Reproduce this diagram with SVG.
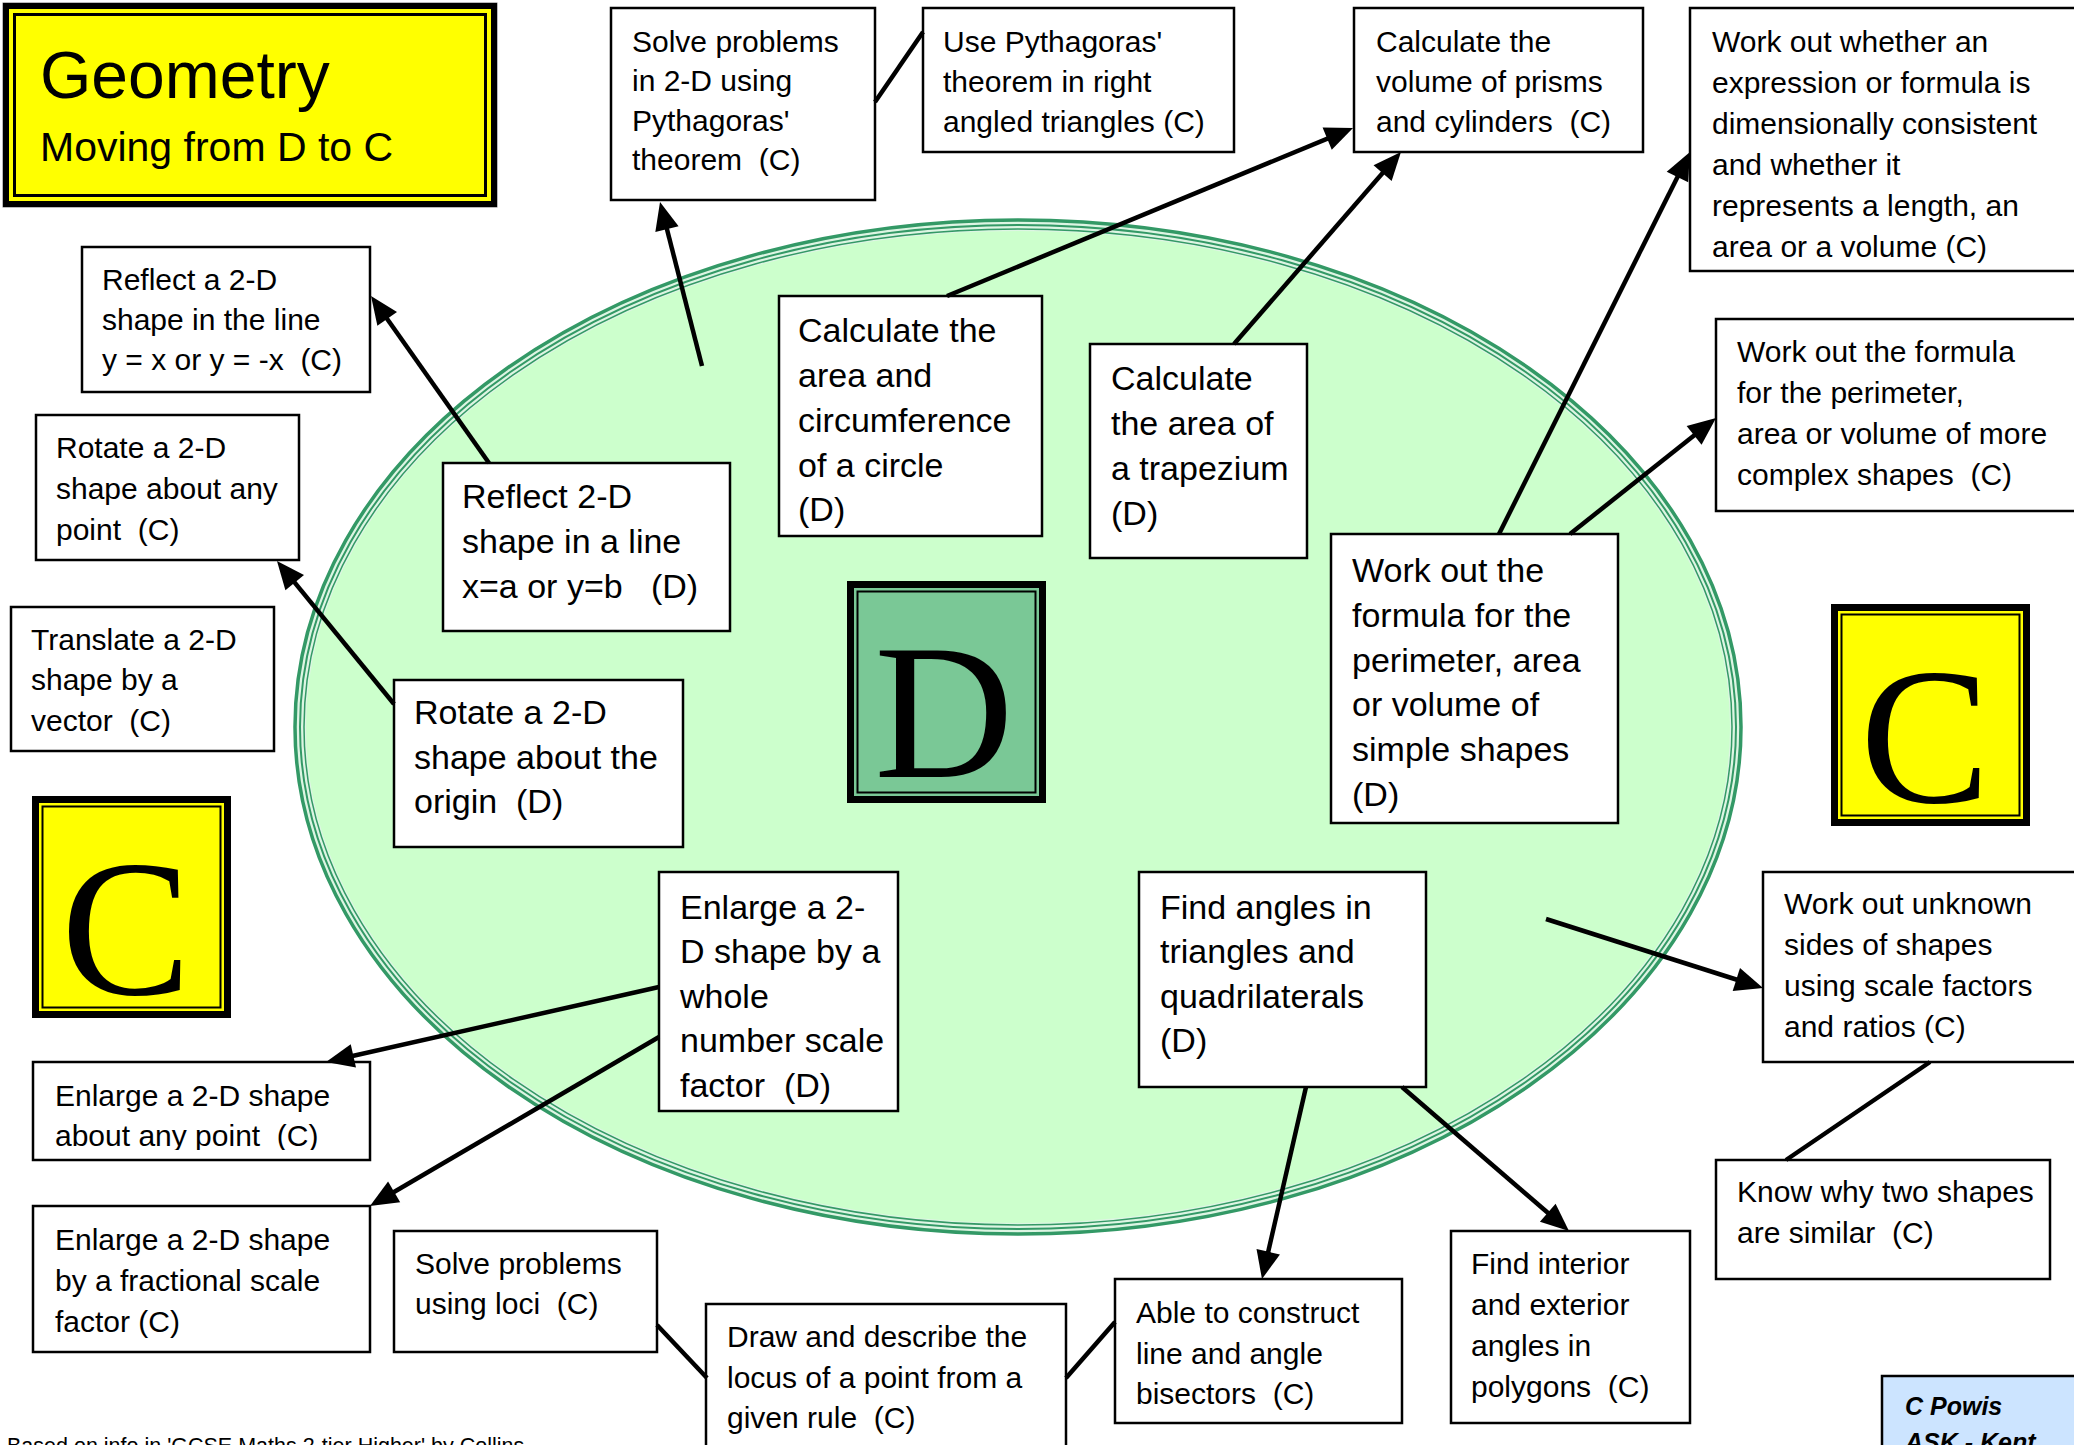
<svg xmlns="http://www.w3.org/2000/svg" width="2074" height="1445" viewBox="0 0 2074 1445" xml:space="preserve">
<style>
.box{fill:#fff;stroke:#000;stroke-width:2.5}
.t{font-family:"Liberation Sans",Arial,sans-serif;font-size:30px;fill:#000;white-space:pre}
.td{font-family:"Liberation Sans",Arial,sans-serif;font-size:34px;fill:#000;white-space:pre}
.big{font-family:"Liberation Serif","Times New Roman",serif;fill:#000;text-anchor:middle}
.ring{fill:none;stroke:#339966}
.con{stroke:#000;stroke-width:4.5;fill:none}
.arr{marker-end:url(#ah)}
.bk{fill:none;stroke:#000}
</style>
<defs>
<marker id="ah" markerUnits="userSpaceOnUse" markerWidth="30" markerHeight="26" refX="18" refY="12" orient="auto" overflow="visible">
<path d="M0,0 L28,12 L0,24 z" fill="#000"/>
</marker>
<clipPath id="clipI"><rect x="33" y="1062" width="337" height="88"/></clipPath>
</defs>
<rect width="2074" height="1445" fill="#fff"/>
<g id="ellipse">
<ellipse cx="1018" cy="727" rx="718" ry="502" fill="#CCFFCC" stroke="#DDF5E3" stroke-width="12"/>
<ellipse class="ring" cx="1018" cy="727" rx="723" ry="507" stroke-width="3.5"/>
<ellipse class="ring" cx="1018" cy="727" rx="718" ry="502" stroke-width="2"/>
<ellipse class="ring" cx="1018" cy="727" rx="714" ry="498" stroke-width="1.5"/>
</g>
<g id="title">
<rect x="3" y="3" width="494" height="204" fill="#FFFF00" stroke="#777" stroke-width="1"/>
<rect class="bk" x="6" y="6" width="488" height="198" stroke-width="6"/>
<rect class="bk" x="14.5" y="14.5" width="471" height="181" stroke-width="3"/>
<text x="40" y="98" font-family="Liberation Sans, Arial, sans-serif" font-size="66">Geometry</text>
<text x="40" y="161" font-family="Liberation Sans, Arial, sans-serif" font-size="41">Moving from D to C</text>
</g>
<g id="gradeD">
<rect x="847" y="581" width="199" height="222" fill="#7AC896"/>
<rect class="bk" x="850.5" y="584.5" width="192" height="215" stroke-width="7"/>
<rect class="bk" x="857.5" y="591.5" width="178" height="201" stroke-width="2"/>
<text class="big" x="944" y="777" font-size="193">D</text>
</g>
<g id="gradeC-right">
<rect x="1831" y="604" width="199" height="222" fill="#FFFF00"/>
<rect class="bk" x="1834.5" y="607.5" width="192" height="215" stroke-width="7"/>
<rect class="bk" x="1841.5" y="614.5" width="178" height="201" stroke-width="2"/>
<text class="big" x="1925" y="802" font-size="195">C</text>
</g>
<g id="gradeC-left">
<rect x="32" y="796" width="199" height="222" fill="#FFFF00"/>
<rect class="bk" x="35.5" y="799.5" width="192" height="215" stroke-width="7"/>
<rect class="bk" x="42.5" y="806.5" width="178" height="201" stroke-width="2"/>
<text class="big" x="126" y="994" font-size="195">C</text>
</g>
<g id="n-solve-pyth">
<rect class="box" x="611" y="8" width="264" height="192"/>
<text class="t"><tspan x="632" y="52">Solve problems</tspan><tspan x="632" y="91">in 2-D using</tspan><tspan x="632" y="131">Pythagoras'</tspan><tspan x="632" y="170">theorem  (C)</tspan></text>
</g>
<g id="n-use-pyth">
<rect class="box" x="923" y="8" width="311" height="144"/>
<text class="t"><tspan x="943" y="52">Use Pythagoras'</tspan><tspan x="943" y="92">theorem in right</tspan><tspan x="943" y="132">angled triangles (C)</tspan></text>
</g>
<g id="n-volume">
<rect class="box" x="1354" y="8" width="289" height="144"/>
<text class="t"><tspan x="1376" y="52">Calculate the</tspan><tspan x="1376" y="92">volume of prisms</tspan><tspan x="1376" y="132">and cylinders  (C)</tspan></text>
</g>
<g id="n-dimensions">
<rect class="box" x="1690" y="8" width="400" height="263"/>
<text class="t"><tspan x="1712" y="52">Work out whether an</tspan><tspan x="1712" y="93">expression or formula is</tspan><tspan x="1712" y="134">dimensionally consistent</tspan><tspan x="1712" y="175">and whether it</tspan><tspan x="1712" y="216">represents a length, an</tspan><tspan x="1712" y="257">area or a volume (C)</tspan></text>
</g>
<g id="n-complex">
<rect class="box" x="1716" y="319" width="374" height="192"/>
<text class="t"><tspan x="1737" y="362">Work out the formula</tspan><tspan x="1737" y="403">for the perimeter,</tspan><tspan x="1737" y="444">area or volume of more</tspan><tspan x="1737" y="485">complex shapes  (C)</tspan></text>
</g>
<g id="n-reflect-c">
<rect class="box" x="82" y="247" width="288" height="145"/>
<text class="t"><tspan x="102" y="290">Reflect a 2-D</tspan><tspan x="102" y="330">shape in the line</tspan><tspan x="102" y="370">y = x or y = -x  (C)</tspan></text>
</g>
<g id="n-rotate-c">
<rect class="box" x="36" y="415" width="263" height="145"/>
<text class="t"><tspan x="56" y="458">Rotate a 2-D</tspan><tspan x="56" y="499">shape about any</tspan><tspan x="56" y="540">point  (C)</tspan></text>
</g>
<g id="n-translate">
<rect class="box" x="11" y="607" width="263" height="144"/>
<text class="t"><tspan x="31" y="650">Translate a 2-D</tspan><tspan x="31" y="690">shape by a</tspan><tspan x="31" y="731">vector  (C)</tspan></text>
</g>
<g id="n-enlarge-point">
<rect class="box" x="33" y="1062" width="337" height="98"/>
<text class="t" clip-path="url(#clipI)"><tspan x="55" y="1106">Enlarge a 2-D shape</tspan><tspan x="55" y="1146">about any point  (C)</tspan></text>
</g>
<g id="n-enlarge-frac">
<rect class="box" x="33" y="1206" width="337" height="146"/>
<text class="t"><tspan x="55" y="1250">Enlarge a 2-D shape</tspan><tspan x="55" y="1291">by a fractional scale</tspan><tspan x="55" y="1332">factor (C)</tspan></text>
</g>
<g id="n-loci">
<rect class="box" x="394" y="1231" width="263" height="121"/>
<text class="t"><tspan x="415" y="1274">Solve problems</tspan><tspan x="415" y="1314">using loci  (C)</tspan></text>
</g>
<g id="n-locus">
<rect class="box" x="706" y="1304" width="360" height="160"/>
<text class="t"><tspan x="727" y="1347">Draw and describe the</tspan><tspan x="727" y="1388">locus of a point from a</tspan><tspan x="727" y="1428">given rule  (C)</tspan></text>
</g>
<g id="n-bisectors">
<rect class="box" x="1115" y="1279" width="287" height="144"/>
<text class="t"><tspan x="1136" y="1323">Able to construct</tspan><tspan x="1136" y="1364">line and angle</tspan><tspan x="1136" y="1404">bisectors  (C)</tspan></text>
</g>
<g id="n-polygons">
<rect class="box" x="1451" y="1231" width="239" height="192"/>
<text class="t"><tspan x="1471" y="1274">Find interior</tspan><tspan x="1471" y="1315">and exterior</tspan><tspan x="1471" y="1356">angles in</tspan><tspan x="1471" y="1397">polygons  (C)</tspan></text>
</g>
<g id="n-unknown-sides">
<rect class="box" x="1763" y="872" width="330" height="190"/>
<text class="t"><tspan x="1784" y="914">Work out unknown</tspan><tspan x="1784" y="955">sides of shapes</tspan><tspan x="1784" y="996">using scale factors</tspan><tspan x="1784" y="1037">and ratios (C)</tspan></text>
</g>
<g id="n-similar">
<rect class="box" x="1716" y="1160" width="334" height="119"/>
<text class="t"><tspan x="1737" y="1202">Know why two shapes</tspan><tspan x="1737" y="1243">are similar  (C)</tspan></text>
</g>
<g id="n-author">
<rect x="1882" y="1376" width="210" height="90" fill="#CCE4FF" stroke="#000" stroke-width="2.5"/>
<text font-family="Liberation Sans, Arial, sans-serif" font-size="25" font-weight="bold" font-style="italic"><tspan x="1905" y="1415">C Powis</tspan><tspan x="1905" y="1451">ASK - Kent</tspan></text>
</g>
<g id="n-circle">
<rect class="box" x="779" y="296" width="263" height="240"/>
<text class="td"><tspan x="798" y="342">Calculate the</tspan><tspan x="798" y="387">area and</tspan><tspan x="798" y="432">circumference</tspan><tspan x="798" y="477">of a circle</tspan><tspan x="798" y="521">(D)</tspan></text>
</g>
<g id="n-trapezium">
<rect class="box" x="1090" y="344" width="217" height="214"/>
<text class="td"><tspan x="1111" y="390">Calculate</tspan><tspan x="1111" y="435">the area of</tspan><tspan x="1111" y="480">a trapezium</tspan><tspan x="1111" y="525">(D)</tspan></text>
</g>
<g id="n-reflect-d">
<rect class="box" x="443" y="463" width="287" height="168"/>
<text class="td"><tspan x="462" y="508">Reflect 2-D</tspan><tspan x="462" y="553">shape in a line</tspan><tspan x="462" y="598">x=a or y=b   (D)</tspan></text>
</g>
<g id="n-rotate-d">
<rect class="box" x="394" y="680" width="289" height="167"/>
<text class="td"><tspan x="414" y="724">Rotate a 2-D</tspan><tspan x="414" y="769">shape about the</tspan><tspan x="414" y="813">origin  (D)</tspan></text>
</g>
<g id="n-formula">
<rect class="box" x="1331" y="534" width="287" height="289"/>
<text class="td"><tspan x="1352" y="582">Work out the</tspan><tspan x="1352" y="627">formula for the</tspan><tspan x="1352" y="672">perimeter, area</tspan><tspan x="1352" y="716">or volume of</tspan><tspan x="1352" y="761">simple shapes</tspan><tspan x="1352" y="806">(D)</tspan></text>
</g>
<g id="n-enlarge-whole">
<rect class="box" x="659" y="872" width="239" height="239"/>
<text class="td"><tspan x="680" y="919">Enlarge a 2-</tspan><tspan x="680" y="963">D shape by a</tspan><tspan x="680" y="1008">whole</tspan><tspan x="680" y="1052">number scale</tspan><tspan x="680" y="1097">factor  (D)</tspan></text>
</g>
<g id="n-angles">
<rect class="box" x="1139" y="872" width="287" height="215"/>
<text class="td"><tspan x="1160" y="919">Find angles in</tspan><tspan x="1160" y="963">triangles and</tspan><tspan x="1160" y="1008">quadrilaterals</tspan><tspan x="1160" y="1052">(D)</tspan></text>
</g>
<g id="footer">
<text x="7" y="1453" font-family="Liberation Sans, Arial, sans-serif" font-size="21.5">Based on info in 'GCSE Maths 2-tier Higher' by Collins</text>
</g>
<g id="connectors">
<line class="con arr" x1="702" y1="366" x2="662.5" y2="211.7"/>
<line class="con" x1="875" y1="102" x2="923" y2="32"/>
<line class="con arr" x1="947" y1="296" x2="1343.8" y2="131.8"/>
<line class="con arr" x1="1234" y1="344" x2="1394.4" y2="159.5"/>
<line class="con arr" x1="1499" y1="534" x2="1685.5" y2="160.9"/>
<line class="con arr" x1="1570" y1="534" x2="1708.2" y2="424.2"/>
<line class="con arr" x1="489" y1="463" x2="376.8" y2="304.2"/>
<line class="con arr" x1="394" y1="704" x2="283.3" y2="568.7"/>
<line class="con arr" x1="659" y1="987" x2="335.8" y2="1059.8"/>
<line class="con arr" x1="659" y1="1037" x2="378.6" y2="1201"/>
<line class="con" x1="657" y1="1325" x2="707" y2="1378"/>
<line class="con" x1="1066" y1="1378" x2="1115" y2="1322"/>
<line class="con arr" x1="1306" y1="1087" x2="1264.2" y2="1269.3"/>
<line class="con arr" x1="1402" y1="1087" x2="1561.4" y2="1224.5"/>
<line class="con arr" x1="1546" y1="919" x2="1753.5" y2="985"/>
<line class="con" x1="1930" y1="1062" x2="1786" y2="1160"/>
</g>
</svg>
